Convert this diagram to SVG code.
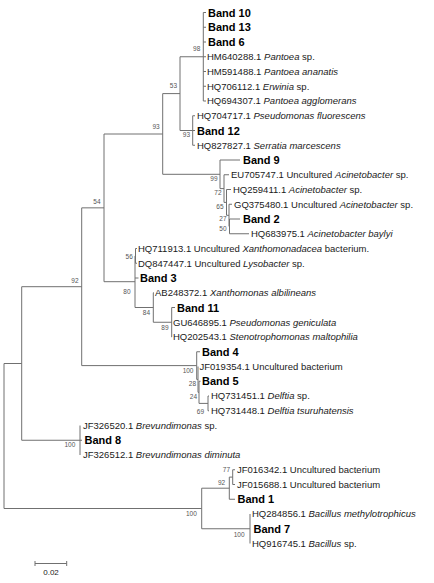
<svg xmlns="http://www.w3.org/2000/svg" width="434" height="583" viewBox="0 0 434 583">
<style>
.t{font-family:"Liberation Sans",Arial,sans-serif;font-size:9.5px;fill:#1a1a1a}
.b{font-family:"Liberation Sans",Arial,sans-serif;font-size:11px;font-weight:bold;fill:#000}
.i{font-style:italic}
.bs{font-family:"Liberation Sans",Arial,sans-serif;font-size:6.5px;fill:#555;text-anchor:end}
.ln{fill:none;stroke:#707070;stroke-width:1}
</style>
<rect width="434" height="583" fill="#fff"/>
<g id="connectors" class="ln">
<path d="M203.3 12.5V101M203.3 12.5H206M203.3 27.25H206M203.3 42H206M203.3 56.75H206M203.3 71.5H206M203.3 86.25H206M203.3 101H206M180 56.75H203.3"/>
<path d="M192.7 115.75V145.25M192.7 115.75H195M192.7 130.5H195M192.7 145.25H195M180 130.5H192.7"/>
<path d="M180 56.75V130.5M162.7 93.6H180"/>
<path d="M220 160V188.6M220 160H240M162.7 174.3H220"/>
<path d="M224 174.75V202.4M224 174.75H229M220 188.6H224"/>
<path d="M226.5 189.5V215.3M226.5 189.5H231M224 202.4H226.5"/>
<path d="M229 204.25V226.4M229 204.25H232M226.5 215.3H229"/>
<path d="M229.5 219V233.75M229.5 219H240M229.5 233.75H249M229 226.4H229.5"/>
<path d="M162.7 93.6V174.3M104 134H162.7"/>
<path d="M135.5 248.5V263.25M135.5 248.5H137M135.5 263.25H137"/>
<path d="M135 255.9V307.5M135 278H138.5M104 281.7H135"/>
<path d="M153.3 292.75V322.25M153.3 292.75H154M135 307.5H153.3"/>
<path d="M171.7 307.5V337M171.7 307.5H175M171.7 322.25H172M171.7 337H172M153.3 322.25H171.7"/>
<path d="M104 134V281.7M81.7 207.85H104"/>
<path d="M196.7 351.75V379.4M196.7 351.75H200M81.7 365.6H196.7"/>
<path d="M198 366.5V392.3M196.7 379.4H198"/>
<path d="M199 381.25V403.4M199 381.25H200.5M198 392.3H199"/>
<path d="M208 396V410.75M208 396H209M208 410.75H209M199 403.4H208"/>
<path d="M81.7 207.85V365.6M21.7 286.7H81.7"/>
<path d="M80 425.5V455M80 440.25H82M21.7 440.25H80"/>
<path d="M21.7 286.7V440.25M4 363.5H21.7"/>
<path d="M232.7 469.75V484.5M232.7 469.75H235M232.7 484.5H235M229.3 477.1H232.7"/>
<path d="M229.3 477.1V499.25M229.3 499.25H235M201.7 488.2H229.3"/>
<path d="M250 514V543.5M201.7 528.75H250"/>
<path d="M201.7 488.2V528.75M4 508.5H201.7"/>
<path d="M4 363.5V508.5"/>
</g>
<g id="leaf-band10"><text class="b" x="208" y="16.5">Band 10</text></g>
<g id="leaf-band13"><text class="b" x="208" y="31.25">Band 13</text></g>
<g id="leaf-band6"><text class="b" x="208" y="46">Band 6</text></g>
<g id="leaf-HM640288"><text class="t" x="207" y="60.1">HM640288.1 <tspan class="i">Pantoea</tspan> sp.</text></g>
<g id="leaf-HM591488"><text class="t" x="207" y="74.85">HM591488.1 <tspan class="i">Pantoea ananatis</tspan></text></g>
<g id="leaf-HQ706112"><text class="t" x="207" y="89.6">HQ706112.1 <tspan class="i">Erwinia</tspan> sp.</text></g>
<g id="leaf-HQ694307"><text class="t" x="207" y="104.35">HQ694307.1 <tspan class="i">Pantoea agglomerans</tspan></text></g>
<g id="leaf-HQ704717"><text class="t" x="197" y="119.1">HQ704717.1 <tspan class="i">Pseudomonas fluorescens</tspan></text></g>
<g id="leaf-band12"><text class="b" x="197" y="134.5">Band 12</text></g>
<g id="leaf-HQ827827"><text class="t" x="197" y="148.6">HQ827827.1 <tspan class="i">Serratia marcescens</tspan></text></g>
<g id="leaf-band9"><text class="b" x="243" y="164">Band 9</text></g>
<g id="leaf-EU705747"><text class="t" x="231" y="178.1">EU705747.1 Uncultured <tspan class="i">Acinetobacter</tspan> sp.</text></g>
<g id="leaf-HQ259411"><text class="t" x="233" y="192.85">HQ259411.1 <tspan class="i">Acinetobacter</tspan> sp.</text></g>
<g id="leaf-GQ375480"><text class="t" x="234" y="207.6">GQ375480.1 Uncultured <tspan class="i">Acinetobacter</tspan> sp.</text></g>
<g id="leaf-band2"><text class="b" x="243" y="223">Band 2</text></g>
<g id="leaf-HQ683975"><text class="t" x="251" y="237.1">HQ683975.1 <tspan class="i">Acinetobacter baylyi</tspan></text></g>
<g id="leaf-HQ711913"><text class="t" x="138" y="251.85">HQ711913.1 Uncultured <tspan class="i">Xanthomonadacea</tspan> bacterium.</text></g>
<g id="leaf-DQ847447"><text class="t" x="138" y="266.6">DQ847447.1 Uncultured <tspan class="i">Lysobacter</tspan> sp.</text></g>
<g id="leaf-band3"><text class="b" x="140" y="282">Band 3</text></g>
<g id="leaf-AB248372"><text class="t" x="155" y="296.1">AB248372.1 <tspan class="i">Xanthomonas albilineans</tspan></text></g>
<g id="leaf-band11"><text class="b" x="177" y="311.5">Band 11</text></g>
<g id="leaf-GU646895"><text class="t" x="173" y="325.6">GU646895.1 <tspan class="i">Pseudomonas geniculata</tspan></text></g>
<g id="leaf-HQ202543"><text class="t" x="173" y="340.35">HQ202543.1 <tspan class="i">Stenotrophomonas maltophilia</tspan></text></g>
<g id="leaf-band4"><text class="b" x="202" y="355.75">Band 4</text></g>
<g id="leaf-JF019354"><text class="t" x="199.5" y="369.85">JF019354.1 Uncultured bacterium</text></g>
<g id="leaf-band5"><text class="b" x="202" y="385.25">Band 5</text></g>
<g id="leaf-HQ731451"><text class="t" x="211" y="399.35">HQ731451.1 <tspan class="i">Delftia</tspan> sp.</text></g>
<g id="leaf-HQ731448"><text class="t" x="211" y="414.1">HQ731448.1 <tspan class="i">Delftia tsuruhatensis</tspan></text></g>
<g id="leaf-JF326520"><text class="t" x="83" y="428.85">JF326520.1 <tspan class="i">Brevundimonas</tspan> sp.</text></g>
<g id="leaf-band8"><text class="b" x="84.5" y="444.25">Band 8</text></g>
<g id="leaf-JF326512"><text class="t" x="83" y="458.35">JF326512.1 <tspan class="i">Brevundimonas diminuta</tspan></text></g>
<g id="leaf-JF016342"><text class="t" x="237" y="473.1">JF016342.1 Uncultured bacterium</text></g>
<g id="leaf-JF015688"><text class="t" x="237" y="487.85">JF015688.1 Uncultured bacterium</text></g>
<g id="leaf-band1"><text class="b" x="237.5" y="503.25">Band 1</text></g>
<g id="leaf-HQ284856"><text class="t" x="252" y="517.35">HQ284856.1 <tspan class="i">Bacillus methylotrophicus</tspan></text></g>
<g id="leaf-band7"><text class="b" x="253.5" y="532.75">Band 7</text></g>
<g id="leaf-HQ916745"><text class="t" x="252" y="546.85">HQ916745.1 <tspan class="i">Bacillus</tspan> sp.</text></g>
<g id="node-98"><text class="bs" x="200.3" y="50.5">98</text></g>
<g id="node-53"><text class="bs" x="177" y="87.5">53</text></g>
<g id="node-93a"><text class="bs" x="159.7" y="128.5">93</text></g>
<g id="node-93b"><text class="bs" x="190" y="136.5">93</text></g>
<g id="node-99"><text class="bs" x="217.5" y="180.8">99</text></g>
<g id="node-72"><text class="bs" x="221.5" y="195.2">72</text></g>
<g id="node-65"><text class="bs" x="223.5" y="209.2">65</text></g>
<g id="node-27"><text class="bs" x="226.5" y="220.8">27</text></g>
<g id="node-50"><text class="bs" x="226.5" y="230.8">50</text></g>
<g id="node-54"><text class="bs" x="100.5" y="204.2">54</text></g>
<g id="node-56"><text class="bs" x="132.8" y="259.2">56</text></g>
<g id="node-80"><text class="bs" x="130.5" y="293.5">80</text></g>
<g id="node-84"><text class="bs" x="150" y="315">84</text></g>
<g id="node-89"><text class="bs" x="168.5" y="330">89</text></g>
<g id="node-92a"><text class="bs" x="78.5" y="282.5">92</text></g>
<g id="node-100d"><text class="bs" x="193.5" y="372.5">100</text></g>
<g id="node-28"><text class="bs" x="196" y="385.5">28</text></g>
<g id="node-24"><text class="bs" x="197" y="398.5">24</text></g>
<g id="node-69"><text class="bs" x="204" y="413.5">69</text></g>
<g id="node-100b"><text class="bs" x="75.3" y="447">100</text></g>
<g id="node-77"><text class="bs" x="230" y="471.5">77</text></g>
<g id="node-92b"><text class="bs" x="225.2" y="484.5">92</text></g>
<g id="node-100e"><text class="bs" x="196.8" y="516">100</text></g>
<g id="node-100c"><text class="bs" x="244.6" y="536.5">100</text></g>
<g id="scale-bar">
<path class="ln" d="M35 563.5H66.7M35 561V566M66.7 561V566"/>
<text class="t" x="51" y="574.5" text-anchor="middle" style="font-size:8px">0.02</text>
</g>
</svg>
